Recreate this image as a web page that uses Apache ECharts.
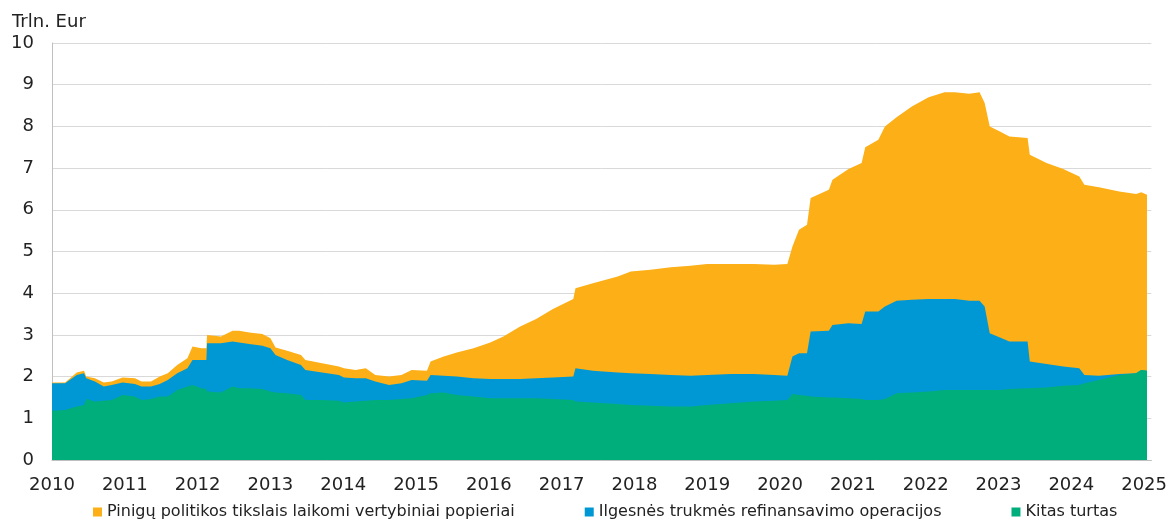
<!DOCTYPE html>
<html>
<head>
<meta charset="utf-8">
<script src="https://cdn.jsdelivr.net/npm/echarts@6/dist/echarts.min.js"></script>
<style>
    html, body {margin: 0; padding: 0; background: #fff;}
    #chart {width: 1170px; height: 519px;}
</style>
</head>
<body>
<div id="chart"></div>
<script>
// laikas metais (dešimtainė dalis)
let dates = [
    2010.00, 2010.18, 2010.34, 2010.44, 2010.47, 2010.59, 2010.71, 2010.82, 2010.97,
    2011.14, 2011.23, 2011.36, 2011.48, 2011.59, 2011.72, 2011.86, 2011.93,
    2012.05, 2012.12, 2012.13, 2012.32, 2012.48, 2012.57, 2012.71, 2012.89,
    2013.00, 2013.07, 2013.23, 2013.42, 2013.48, 2013.71, 2013.94,
    2014.01, 2014.17, 2014.31, 2014.44, 2014.63, 2014.80, 2014.94,
    2015.15, 2015.20, 2015.38, 2015.56, 2015.79,
    2016.02, 2016.20, 2016.43, 2016.65, 2016.88,
    2017.16, 2017.19, 2017.43, 2017.77, 2017.95,
    2018.22, 2018.50, 2018.77,
    2019.00, 2019.32, 2019.64, 2019.92,
    2020.10, 2020.17, 2020.26, 2020.37, 2020.42, 2020.67, 2020.72, 2020.94,
    2021.12, 2021.17, 2021.35, 2021.44, 2021.60, 2021.81,
    2022.04, 2022.26, 2022.40, 2022.60, 2022.74, 2022.81, 2022.88,
    2023.02, 2023.15, 2023.40, 2023.43, 2023.66, 2023.89,
    2024.11, 2024.18, 2024.38, 2024.66, 2024.89, 2024.96, 2025.04
]

// Kitas turtas
let kitasTurtas = [
    1.18, 1.20, 1.28, 1.32, 1.46, 1.40, 1.42, 1.44, 1.56,
    1.52, 1.44, 1.46, 1.52, 1.52, 1.68, 1.76, 1.80,
    1.72, 1.70, 1.64, 1.62, 1.76, 1.72, 1.72, 1.70,
    1.64, 1.62, 1.60, 1.56, 1.44, 1.44, 1.42,
    1.38, 1.40, 1.42, 1.44, 1.44, 1.46, 1.48,
    1.56, 1.60, 1.62, 1.56, 1.52,
    1.48, 1.48, 1.48, 1.48, 1.46,
    1.44, 1.40, 1.38, 1.34, 1.32,
    1.30, 1.28, 1.28,
    1.32, 1.36, 1.40, 1.42,
    1.44, 1.58, 1.56, 1.54, 1.52, 1.50, 1.50, 1.48,
    1.46, 1.44, 1.44, 1.46, 1.60, 1.62,
    1.64, 1.68, 1.68, 1.68, 1.68, 1.68, 1.68,
    1.68, 1.70, 1.72, 1.72, 1.74, 1.78,
    1.80, 1.84, 1.92, 2.04, 2.08, 2.16, 2.14
]

// Ilgesnės trukmės refinansavimo operacijos
let refinansavimas = [
    0.66, 0.64, 0.76, 0.76, 0.50, 0.48, 0.34, 0.36, 0.30,
    0.30, 0.32, 0.30, 0.30, 0.40, 0.40, 0.44, 0.60,
    0.68, 0.70, 1.16, 1.18, 1.08, 1.10, 1.06, 1.04,
    1.04, 0.90, 0.80, 0.72, 0.72, 0.66, 0.62,
    0.60, 0.56, 0.54, 0.44, 0.36, 0.38, 0.44,
    0.34, 0.44, 0.40, 0.44, 0.44,
    0.46, 0.46, 0.46, 0.48, 0.52,
    0.56, 0.80, 0.76, 0.76, 0.76,
    0.76, 0.76, 0.74,
    0.72, 0.70, 0.66, 0.62,
    0.58, 0.90, 1.00, 1.02, 1.56, 1.60, 1.74, 1.80,
    1.80, 2.12, 2.12, 2.22, 2.22, 2.22,
    2.22, 2.18, 2.18, 2.14, 2.14, 2.00, 1.36,
    1.26, 1.14, 1.12, 0.64, 0.56, 0.46,
    0.40, 0.20, 0.10, 0.02, 0.00, 0.00, 0.00
]

// Pinigų politikos tikslais laikomi vertybiniai popieriai
let vertybiniaiPopieriai = [
    0.02, 0.02, 0.06, 0.06, 0.04, 0.08, 0.10, 0.08, 0.12,
    0.14, 0.12, 0.12, 0.18, 0.16, 0.20, 0.24, 0.32,
    0.28, 0.28, 0.20, 0.16, 0.26, 0.28, 0.28, 0.28,
    0.24, 0.18, 0.22, 0.24, 0.24, 0.22, 0.20,
    0.22, 0.20, 0.24, 0.16, 0.20, 0.20, 0.24,
    0.24, 0.32, 0.46, 0.58, 0.72,
    0.88, 1.02, 1.26, 1.42, 1.64,
    1.86, 1.92, 2.10, 2.30, 2.44,
    2.50, 2.58, 2.64,
    2.66, 2.64, 2.64, 2.64,
    2.68, 2.64, 2.96, 3.08, 3.20, 3.38, 3.48, 3.70,
    3.86, 3.94, 4.12, 4.32, 4.40, 4.64,
    4.84, 4.96, 4.96, 4.96, 5.00, 4.88, 4.96,
    4.94, 4.92, 4.88, 4.96, 4.82, 4.74,
    4.60, 4.56, 4.52, 4.38, 4.30, 4.26, 4.22
]

let yTicks = [0, 10, 1]   // min, max, žingsnis

let seriesNames = [
    'Pinigų politikos tikslais laikomi vertybiniai popieriai',
    'Ilgesnės trukmės refinansavimo operacijos',
    'Kitas turtas'
]

let font = 'DejaVu Sans, Verdana, sans-serif'

// sluoksniai sudedami vienas ant kito: kiekviena sritis piešiama nuo nulio iki sukauptos sumos
function stackUp(layers) {
    return dates.map((d, i) => [d, layers.reduce((s, arr) => s + arr[i], 0)])
}

function areaSeries(name, points, color) {
    return {
        name: name,
        type: 'line',
        data: points,
        showSymbol: false,
        symbol: 'none',
        itemStyle: {color: color},
        lineStyle: {width: 0},
        areaStyle: {color: color, opacity: 1},
        emphasis: {disabled: true}
    }
}

let myChart = echarts.init(document.getElementById('chart'))
myChart.setOption({
    animation: false,
    textStyle: {fontFamily: font},
    title: {
        text: 'Trln. Eur',
        left: 7,
        top: 8,
        textStyle: {fontSize: 18, fontWeight: 'normal', color: '#222', fontFamily: font}
    },
    legend: {
        data: seriesNames,
        top: 499,
        left: 88,
        itemWidth: 9,
        itemHeight: 9,
        itemGap: 70,
        icon: 'rect',
        textStyle: {fontSize: 16, color: '#222', fontFamily: font}
    },
    grid: {left: 52, right: 15, top: 43, bottom: 59},
    xAxis: {
        type: 'value',
        min: 2010,
        max: 2025.1,
        interval: 1,
        axisLine: {show: true, lineStyle: {color: '#bfbfbf'}},
        axisTick: {show: false},
        splitLine: {show: false},
        axisLabel: {
            fontSize: 18,
            color: '#222',
            margin: 16,
            formatter: v => Number.isInteger(v) ? String(v) : ''
        }
    },
    yAxis: {
        type: 'value',
        min: yTicks[0],
        max: yTicks[1],
        interval: yTicks[2],
        axisLine: {show: true, lineStyle: {color: '#bfbfbf'}},
        axisTick: {show: false},
        splitLine: {lineStyle: {color: '#d9d9d9'}},
        axisLabel: {fontSize: 18, color: '#222', margin: 18}
    },
    series: [
        areaSeries(seriesNames[0], stackUp([kitasTurtas, refinansavimas, vertybiniaiPopieriai]), '#FCAF17'),
        areaSeries(seriesNames[1], stackUp([kitasTurtas, refinansavimas]), '#0098D4'),
        areaSeries(seriesNames[2], stackUp([kitasTurtas]), '#00AE7B')
    ]
})
</script>
</body>
</html>
